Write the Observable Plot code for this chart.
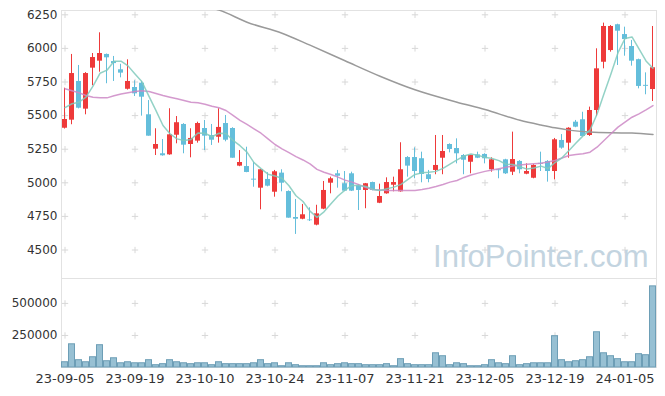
<!DOCTYPE html>
<html><head><meta charset="utf-8">
<script src="https://cdn.jsdelivr.net/npm/d3@7"></script>
<script src="https://cdn.jsdelivr.net/npm/@observablehq/plot@0.6"></script>
<style>body{margin:0;background:#fff;} #chart{width:665px;}</style>
</head><body><div id="chart"></div>
<script>
const dates = [
"23-09-05","23-09-06","23-09-07","23-09-08","23-09-11","23-09-12","23-09-13","23-09-14","23-09-15","23-09-18",
"23-09-19","23-09-20","23-09-21","23-09-22","23-09-25","23-09-26","23-09-27","23-10-04","23-10-05","23-10-06",
"23-10-10","23-10-11","23-10-12","23-10-13","23-10-16","23-10-17","23-10-18","23-10-19","23-10-20","23-10-23",
"23-10-24","23-10-25","23-10-26","23-10-27","23-10-30","23-10-31","23-11-01","23-11-02","23-11-03","23-11-06",
"23-11-07","23-11-08","23-11-09","23-11-10","23-11-13","23-11-14","23-11-15","23-11-16","23-11-17","23-11-20",
"23-11-21","23-11-22","23-11-23","23-11-24","23-11-27","23-11-28","23-11-29","23-11-30","23-12-01","23-12-04",
"23-12-05","23-12-06","23-12-07","23-12-08","23-12-11","23-12-12","23-12-13","23-12-14","23-12-15","23-12-18",
"23-12-19","23-12-20","23-12-21","23-12-22","23-12-26","23-12-27","23-12-28","24-01-02","24-01-03","24-01-04",
"24-01-05","24-01-08","24-01-09","24-01-10","24-01-11"];
const open = [5406,5466,5754,5548,5853,5905,5955,5902,5841,5696,5709,5741,5506,5250,5216,5208,5354,5434,5285,5310,
5404,5352,5339,5441,5404,5124,5121,5027,4960,5025,4930,5072,4935,4742,4729,4723,4685,4804,4997,5067,
4993,5067,4978,4943,5002,4848,4918,4982,4933,5188,5188,5179,5060,5092,5183,5285,5255,5203,5153,5208,
5211,5097,5097,5171,5079,5159,5064,5034,5145,5159,5084,5315,5295,5451,5469,5352,5538,5897,5984,6176,
6103,6014,5916,5725,5694];
const high = [5704,5955,5873,5820,5962,6116,5958,5940,5882,5915,5759,5754,5612,5402,5322,5551,5493,5440,5402,5451,
5464,5434,5551,5501,5410,5240,5265,5153,5100,5075,5092,5097,4940,4876,4839,4814,4833,5010,5042,5092,
5084,5079,4985,4995,5005,4990,5037,5042,5298,5195,5260,5228,5092,5352,5352,5290,5327,5210,5205,5228,
5216,5186,5100,5175,5377,5165,5141,5135,5228,5165,5330,5359,5410,5464,5525,5563,5997,6188,6170,6180,
6158,6059,5920,5818,6163];
const low = [5400,5432,5550,5506,5722,5823,5737,5754,5781,5690,5642,5496,5347,5203,5198,5205,5290,5216,5186,5295,
5240,5278,5295,5305,5183,5120,5075,4967,4799,4970,4893,4933,4737,4616,4725,4712,4680,4800,4918,4960,
4935,4935,4794,4807,4940,4845,4915,4933,4930,5042,5030,5000,5000,5060,5060,5223,5141,5060,5067,5180,
5141,5079,5030,5062,5054,5067,5060,5030,5084,5005,5022,5250,5183,5410,5340,5345,5493,5848,5972,5873,
5942,5868,5699,5655,5605];
const close = [5471,5813,5555,5813,5932,5962,5930,5887,5816,5754,5662,5637,5347,5285,5201,5357,5447,5280,5330,5441,
5347,5317,5412,5317,5183,5151,5077,5020,5097,4975,5082,4997,4737,4729,4762,4718,4769,4943,5030,5049,
4938,4938,4943,4993,4943,4898,5002,5002,5097,5124,5084,5062,5025,5129,5233,5248,5216,5168,5203,5183,
5179,5171,5090,5067,5173,5097,5084,5129,5138,5084,5320,5258,5406,5414,5345,5538,5848,6163,6163,6128,
6066,5905,5717,5718,5856];
const volume = [41000,181000,57000,41000,80000,174000,49000,72000,33000,41000,
33000,33000,57000,18000,26000,57000,41000,33000,26000,33000,
33000,18000,41000,26000,26000,26000,26000,33000,57000,26000,
33000,10000,33000,18000,10000,10000,10000,33000,18000,26000,
33000,26000,26000,18000,18000,18000,26000,10000,65000,26000,
18000,18000,18000,111000,88000,18000,33000,26000,10000,10000,
18000,57000,33000,26000,88000,18000,26000,33000,33000,33000,
244000,57000,41000,49000,57000,80000,275000,111000,88000,65000,
41000,41000,104000,96000,633000];
const ma5 = [5560,5588,5600,5637,5720,5815,5838,5905,5905,5870,5810,5751,5643,5537,5426,5365,5327,5314,5323,5371,
5369,5343,5369,5367,5315,5276,5228,5150,5106,5064,5050,5034,4978,4904,4861,4789,4743,4784,4844,4902,
4946,4980,4980,4972,4951,4943,4956,4968,4988,5025,5062,5074,5078,5085,5107,5139,5170,5199,5214,5204,
5190,5181,5165,5138,5136,5120,5102,5110,5124,5106,5151,5186,5241,5296,5349,5392,5510,5662,5811,5968,
6074,6085,5996,5907,5852];
const ma20 = [5700,5685,5670,5650,5637,5632,5632,5648,5660,5670,5679,5685,5680,5665,5650,5637,5625,5612,5600,5595,
5585,5570,5558,5538,5501,5464,5434,5402,5369,5327,5285,5253,5225,5195,5170,5141,5100,5079,5062,5042,
5020,5005,4985,4965,4950,4946,4943,4942,4942,4942,4943,4950,4960,4972,4987,5005,5017,5040,5058,5072,
5085,5095,5105,5115,5125,5132,5138,5142,5146,5155,5166,5185,5203,5210,5216,5228,5265,5315,5365,5414,
5451,5488,5513,5543,5575];
const ma60Index = [21,22,26,31,35,40,45,50,56,60,65,68,70,72,75,78,81,84];
const ma60 = [6300,6285,6195,6113,6024,5908,5793,5692,5600,5545,5465,5430,5409,5392,5378,5372,5370,5359];
const priceTicks = [4500,4750,5000,5250,5500,5750,6000,6250];
const volumeTicks = [250000,500000];
const tickLabels = ["23-09-05","23-09-19","23-10-10","23-10-24","23-11-07","23-11-21","23-12-05","23-12-19","24-01-05"];

const rows = dates.map((d, i) => ({date: d, open: open[i], high: high[i], low: low[i], close: close[i],
  volume: volume[i], ma5: ma5[i], ma20: ma20[i], up: close[i] >= open[i]}));
const upRows = rows.filter(d => d.up);
const downRows = rows.filter(d => !d.up);
const ma60Rows = ma60Index.map((k, j) => ({date: dates[k], v: ma60[j]}));
const priceCrosses = tickLabels.flatMap(t => priceTicks.map(v => ({date: t, v})));
const volCrosses = tickLabels.flatMap(t => volumeTicks.map(v => ({date: t, v})));

const RED = "#ee3a3a", BLUE = "#64bedb";
const FONT = "'DejaVu Sans', sans-serif";
const xScale = {type: "band", domain: dates, padding: 0, axis: null};

const price = Plot.plot({
  width: 665, height: 278, marginTop: 10, marginBottom: 0, marginLeft: 61, marginRight: 9,
  style: {fontFamily: FONT, background: "#fff", color: "#333"},
  x: xScale,
  y: {domain: [4288, 6282], axis: null},
  marks: [
    Plot.frame({stroke: "#e2e2e2"}),
    Plot.dot(priceCrosses, {x: "date", y: "v", symbol: "plus", r: 2.2, stroke: "#d8d8d8", strokeWidth: 1}),
    Plot.axisY(priceTicks, {tickSize: 0, tickPadding: 4, fontSize: 12, fill: "#333", tickFormat: d => String(d), label: null}),
    Plot.text(["InfoPointer.com"], {frameAnchor: "bottom-right", textAnchor: "end", lineAnchor: "bottom", dx: -8, dy: -12,
      fontSize: 31, fontFamily: "'Liberation Sans', Arial, sans-serif", fill: "#c3d4e0"}),
    Plot.ruleX(upRows, {x: "date", y1: "low", y2: "high", stroke: RED, strokeWidth: 1, dx: -0.5}),
    Plot.ruleX(downRows, {x: "date", y1: "low", y2: "high", stroke: BLUE, strokeWidth: 1, dx: -0.5}),
    Plot.barY(upRows, {x: "date", y1: "open", y2: "close", fill: RED, insetLeft: 1, insetRight: 1}),
    Plot.barY(downRows, {x: "date", y1: "open", y2: "close", fill: BLUE, insetLeft: 1, insetRight: 1}),
    Plot.line(ma60Rows, {x: "date", y: "v", stroke: "#9a9a9a", strokeWidth: 1.5, curve: "monotone-x", clip: true}),
    Plot.line(rows, {x: "date", y: "ma20", stroke: "#cc88c6", strokeWidth: 1.5, strokeOpacity: 0.85}),
    Plot.line(rows, {x: "date", y: "ma5", stroke: "#80cabc", strokeWidth: 1.5, strokeOpacity: 0.85})
  ]
});

const vol = Plot.plot({
  width: 665, height: 118, marginTop: 0, marginBottom: 29, marginLeft: 61, marginRight: 9,
  style: {fontFamily: FONT, background: "#fff", color: "#333"},
  x: xScale,
  y: {domain: [0, 694400], axis: null},
  marks: [
    Plot.frame({stroke: "#e2e2e2"}),
    Plot.dot(volCrosses, {x: "date", y: "v", symbol: "plus", r: 2.2, stroke: "#d8d8d8", strokeWidth: 1}),
    Plot.axisY(volumeTicks, {tickSize: 0, tickPadding: 4, fontSize: 12, fill: "#333", tickFormat: d => String(d), label: null}),
    Plot.axisX(tickLabels, {tickSize: 0, tickPadding: 6, fontSize: 13, fill: "#333", label: null}),
    Plot.barY(rows, {x: "date", y: "volume", fill: "#97c0d3", stroke: "#6d9eb6", strokeWidth: 1, insetLeft: 0.5, insetRight: 0.5})
  ]
});

const el = document.getElementById("chart");
el.appendChild(price);
el.appendChild(vol);
</script>
</body></html>
